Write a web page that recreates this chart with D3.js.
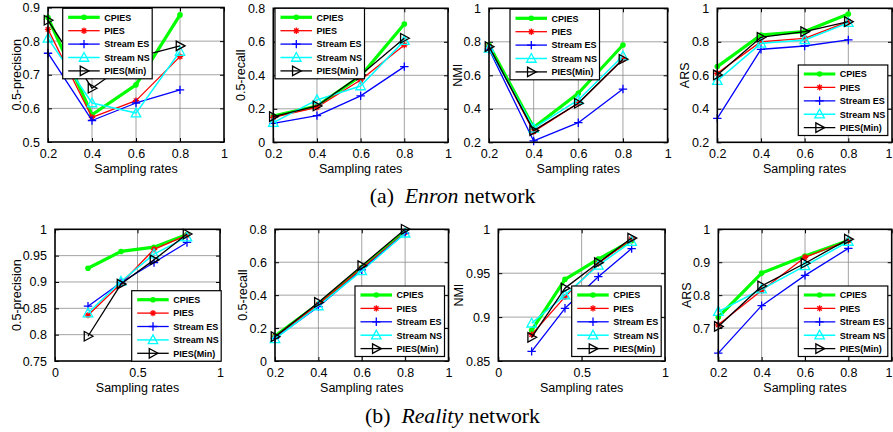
<!DOCTYPE html>
<html><head><meta charset="utf-8">
<script src="https://cdn.jsdelivr.net/npm/d3@7"></script>
<style>
body{margin:0;background:#fff}
svg{display:block}
text.sans{font-family:Arial,"Liberation Sans",Helvetica,sans-serif}
text.serif{font-family:"Liberation Serif","Times New Roman",Times,serif}
</style>
</head><body>
<svg id="c" width="893" height="432"></svg>
<script>
// ---------------- DATA ----------------
const seriesNames = ["CPIES", "PIES", "StreamES", "StreamNS", "PIES(Min)"];
const rates = [0.2, 0.4, 0.6, 0.8];

// rows follow seriesNames order
const enronPrecision = [
  [0.870, 0.581, 0.670, 0.878],
  [0.835, 0.573, 0.623, 0.754],
  [0.764, 0.564, 0.616, 0.655],
  [0.808, 0.616, 0.586, 0.769],
  [0.862, 0.660, 0.752, 0.786]
];
const enronRecall = [
  [0.157, 0.217, 0.396, 0.706],
  [0.149, 0.209, 0.372, 0.581],
  [0.113, 0.159, 0.277, 0.452],
  [0.117, 0.253, 0.336, 0.607],
  [0.153, 0.217, 0.402, 0.621]
];
const enronNMI = [
  [0.781, 0.288, 0.493, 0.781],
  [0.771, 0.264, 0.433, 0.696],
  [0.755, 0.208, 0.317, 0.518],
  [0.761, 0.284, 0.453, 0.715],
  [0.771, 0.270, 0.433, 0.696]
];
const enronARS = [
  [0.652, 0.841, 0.861, 0.966],
  [0.612, 0.801, 0.821, 0.920],
  [0.343, 0.755, 0.775, 0.811],
  [0.568, 0.791, 0.811, 0.914],
  [0.602, 0.827, 0.861, 0.920]
];
const realityPrecision = [
  [0.926, 0.958, 0.966, 0.990],
  [0.837, 0.897, 0.962, 0.989],
  [0.854, 0.899, 0.937, 0.975],
  [0.841, 0.901, 0.953, 0.985],
  [0.797, 0.896, 0.942, 0.991]
];
const realityRecall = [
  [0.152, 0.346, 0.567, 0.786],
  [0.148, 0.344, 0.563, 0.780],
  [0.138, 0.330, 0.553, 0.776],
  [0.134, 0.334, 0.547, 0.776],
  [0.148, 0.356, 0.579, 0.800]
];
const realityNMI = [
  [0.885, 0.943, 0.966, 0.987],
  [0.880, 0.923, 0.961, 0.989],
  [0.861, 0.910, 0.946, 0.978],
  [0.893, 0.925, 0.959, 0.986],
  [0.877, 0.933, 0.962, 0.990]
];
const realityARS = [
  [0.733, 0.867, 0.919, 0.966],
  [0.710, 0.814, 0.915, 0.966],
  [0.624, 0.768, 0.860, 0.942],
  [0.750, 0.818, 0.889, 0.963],
  [0.705, 0.828, 0.897, 0.970]
];

// tick labels
const xTicksRate = [0.2, 0.4, 0.6, 0.8, 1];
const xTicksHalf = [0, 0.5, 1];
const yTicksEnronP = [0.5, 0.6, 0.7, 0.8, 0.9];
const yTicksRecall = [0, 0.2, 0.4, 0.6, 0.8];
const yTicksUnit = [0.2, 0.4, 0.6, 0.8, 1];
const yTicksRealP = [0.75, 0.8, 0.85, 0.9, 0.95, 1];
const yTicksRealNMI = [0.85, 0.9, 0.95, 1];
const yTicksRealARS = [0.7, 0.8, 0.9, 1];

const xLabel = "Sampling rates";
const captionA = ["(a)  ", "Enron", " network"];
const captionB = ["(b)  ", "Reality", " network"];

// ---------------- STYLE / LAYOUT ----------------
const styles = [
  {color: "#00ff00", width: 3.2, marker: "dot"},
  {color: "#ff0000", width: 1.3, marker: "star"},
  {color: "#0000ff", width: 1.3, marker: "plus"},
  {color: "#00ffff", width: 1.5, marker: "triUp"},
  {color: "#000000", width: 1.3, marker: "triRight"}
];

const panels = [
  {data: enronPrecision, yLabel: "0.5-precision", yDomain: [0.5, 0.9], yTicks: yTicksEnronP, xDomain: [0.2, 1], xTicks: xTicksRate,
   box: [48, 7.5, 176, 134.5], legend: [62.7, 8.3], yLabelX: 20.5},
  {data: enronRecall, yLabel: "0.5-recall", yDomain: [0, 0.8], yTicks: yTicksRecall, xDomain: [0.2, 1], xTicks: xTicksRate,
   box: [273.3, 8.3, 174.7, 134], legend: [275, 8.3], yLabelX: 245},
  {data: enronNMI, yLabel: "NMI", yDomain: [0.2, 1], yTicks: yTicksUnit, xDomain: [0.2, 1], xTicks: xTicksRate,
   box: [489, 8.3, 178.6, 134], legend: [510, 9.3], yLabelX: 462},
  {data: enronARS, yLabel: "ARS", yDomain: [0.2, 1], yTicks: yTicksUnit, xDomain: [0.2, 1], xTicks: xTicksRate,
   box: [717.3, 8.3, 174.7, 134], legend: [798.3, 65], yLabelX: 689},
  {data: realityPrecision, yLabel: "0.5-precision", yDomain: [0.75, 1], yTicks: yTicksRealP, xDomain: [0, 1], xTicks: xTicksHalf,
   box: [55, 229.3, 165, 131.7], legend: [131.7, 290.7], yLabelX: 20.7},
  {data: realityRecall, yLabel: "0.5-recall", yDomain: [0, 0.8], yTicks: yTicksRecall, xDomain: [0.2, 1], xTicks: xTicksRate,
   box: [275, 229.3, 173.5, 131.7], legend: [355, 286], yLabelX: 246.7},
  {data: realityNMI, yLabel: "NMI", yDomain: [0.85, 1], yTicks: yTicksRealNMI, xDomain: [0, 1], xTicks: xTicksHalf,
   box: [498.3, 229.3, 166.7, 131.7], legend: [571.7, 286], yLabelX: 462.7},
  {data: realityARS, yLabel: "ARS", yDomain: [0.6, 1], yTicks: yTicksRealARS, xDomain: [0.2, 1], xTicks: xTicksRate,
   box: [718.3, 229.3, 173.4, 131.7], legend: [798.3, 286], yLabelX: 691}
];

const W = 893;
const svg = d3.select("#c");
svg.append("rect").attr("width", W).attr("height", 432).attr("fill", "#fff");

const fmt = v => String(+v.toFixed(2));

function markerPath(type, s) {
  switch (type) {
    case "star": {
      const d = s * 0.7;
      return `M${-s},0L${s},0M0,${-s}L0,${s}M${-d},${-d}L${d},${d}M${-d},${d}L${d},${-d}`;
    }
    case "plus": return `M${-s},0L${s},0M0,${-s}L0,${s}`;
    case "triUp": return `M0,${-s}L${s*0.95},${s*0.75}L${-s*0.95},${s*0.75}Z`;
    case "triRight": return `M${s},0L${-s*0.75},${s*0.95}L${-s*0.75},${-s*0.95}Z`;
  }
  return "";
}

function drawMarker(g, st, x, y) {
  if (st.marker === "dot") {
    g.append("circle").attr("cx", x).attr("cy", y).attr("r", 2.8).attr("fill", st.color);
  } else {
    const size = {star: 3.2, plus: 4.2, triUp: 5, triRight: 5}[st.marker];
    g.append("path").attr("d", markerPath(st.marker, size))
      .attr("transform", `translate(${x},${y})`)
      .attr("fill", "none").attr("stroke", st.color).attr("stroke-width", 1.3);
  }
}

panels.forEach(p => {
  const [bx, by, bw, bh] = p.box;
  const x = d3.scaleLinear().domain(p.xDomain).range([bx, bx + bw]);
  const y = d3.scaleLinear().domain(p.yDomain).range([by + bh, by]);
  const g = svg.append("g");

  // grid
  const grid = g.append("g").attr("stroke", "#8c8c8c").attr("stroke-width", 0.8);
  p.xTicks.forEach(t => {
    if (Math.abs(x(t) - bx) > 1 && Math.abs(x(t) - bx - bw) > 1)
      grid.append("line").attr("x1", x(t)).attr("x2", x(t)).attr("y1", by).attr("y2", by + bh);
  });
  p.yTicks.forEach(t => {
    if (Math.abs(y(t) - by) > 1 && Math.abs(y(t) - by - bh) > 1)
      grid.append("line").attr("y1", y(t)).attr("y2", y(t)).attr("x1", bx).attr("x2", bx + bw);
  });

  // axes (inward ticks on all four sides)
  const axB = g.append("g").attr("transform", `translate(0,${by + bh})`)
    .call(d3.axisBottom(x).tickValues(p.xTicks).tickFormat(fmt).tickSize(-4).tickPadding(7));
  const axT = g.append("g").attr("transform", `translate(0,${by})`)
    .call(d3.axisTop(x).tickValues(p.xTicks).tickFormat("").tickSize(-4));
  const axL = g.append("g").attr("transform", `translate(${bx},0)`)
    .call(d3.axisLeft(y).tickValues(p.yTicks).tickFormat(fmt).tickSize(-4).tickPadding(8));
  const axR = g.append("g").attr("transform", `translate(${bx + bw},0)`)
    .call(d3.axisRight(y).tickValues(p.yTicks).tickFormat("").tickSize(-4));
  [axB, axT, axL, axR].forEach(a => {
    a.select(".domain").remove();
    a.selectAll(".tick line").attr("stroke", "#000").attr("stroke-width", 1);
    a.selectAll("text").attr("class", "sans").attr("font-size", 12.5).attr("fill", "#000");
  });
  // keep right-edge tick labels inside the picture
  axB.selectAll(".tick").each(function(t) {
    if (x(t) + 4 > W) d3.select(this).select("text").attr("text-anchor", "end").attr("x", W - 1 - x(t));
  });

  // series
  p.data.forEach((vals, i) => {
    const st = styles[i];
    const pts = rates.map((r, k) => [x(r), y(vals[k])]);
    g.append("path").attr("d", d3.line()(pts)).attr("fill", "none")
      .attr("stroke", st.color).attr("stroke-width", st.width).attr("stroke-linejoin", "round");
    const mg = g.append("g");
    pts.forEach(pt => drawMarker(mg, st, pt[0], pt[1]));
  });

  // box
  g.append("rect").attr("x", bx).attr("y", by).attr("width", bw).attr("height", bh)
    .attr("fill", "none").attr("stroke", "#000").attr("stroke-width", 1.6);

  // legend
  const [lx, ly] = p.legend;
  const lg = g.append("g").attr("transform", `translate(${lx},${ly})`);
  lg.append("rect").attr("width", 89.5).attr("height", 70.5)
    .attr("fill", "#fff").attr("stroke", "#000").attr("stroke-width", 1.2);
  seriesNames.forEach((name, i) => {
    const st = styles[i];
    const yy = 9 + i * 13.4;
    lg.append("line").attr("x1", 5.5).attr("x2", 37).attr("y1", yy).attr("y2", yy)
      .attr("stroke", st.color).attr("stroke-width", st.width);
    drawMarker(lg, st, 21.3, yy);
    const t = lg.append("text").attr("class", "sans").attr("x", 41.5).attr("y", yy + 3.3)
      .attr("font-size", 9).attr("font-weight", "bold").attr("fill", "#000");
    if (name.startsWith("Stream")) {
      t.append("tspan").text("Stream");
      t.append("tspan").attr("dx", 2.5).text(name.slice(6));
    } else {
      t.text(name);
    }
  });

  // axis labels
  g.append("text").attr("class", "sans").attr("x", bx + bw / 2).attr("y", by + bh + 30.5)
    .attr("text-anchor", "middle").attr("font-size", 12.5).text(xLabel);
  g.append("text").attr("class", "sans").attr("transform", `translate(${p.yLabelX},${by + bh / 2}) rotate(-90)`)
    .attr("text-anchor", "middle").attr("font-size", 12.5).text(p.yLabel);
});

// captions
function caption(parts, cx, baseY) {
  const t = svg.append("text").attr("class", "serif")
    .attr("transform", `translate(${cx},${baseY}) scale(1.09,1)`)
    .attr("text-anchor", "middle").attr("font-size", 20).attr("fill", "#000")
    .style("white-space", "pre");
  t.append("tspan").text(parts[0]);
  t.append("tspan").attr("font-style", "italic").text(parts[1]);
  t.append("tspan").text(parts[2]);
}
caption(captionA, 452.5, 203);
caption(captionB, 452.5, 423);
</script>
</body></html>
